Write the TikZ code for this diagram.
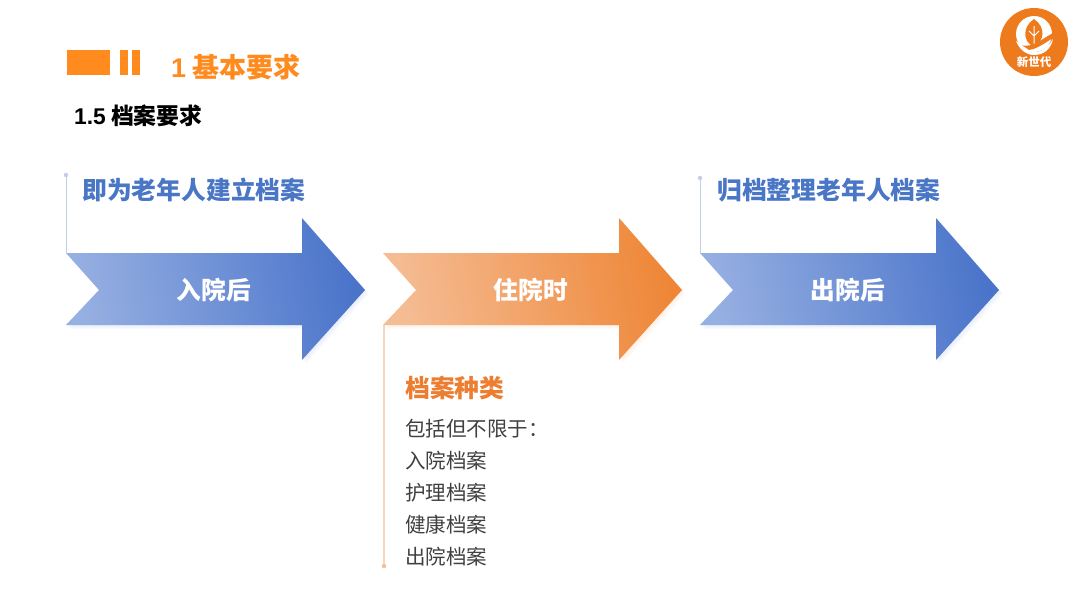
\documentclass[tikz,border=0pt]{standalone}
\usepackage{fontspec}
\setmainfont{Noto Sans CJK SC}
\newfontfamily\latinbold{Liberation Sans}[BoldFont={Liberation Sans Bold}]
\usetikzlibrary{positioning,calc}
\definecolor{orangeMain}{HTML}{FF8A1E}
\definecolor{orangeText}{HTML}{ED7D31}
\definecolor{orangeLogo}{HTML}{EE7A1E}
\definecolor{orangeLight}{HTML}{F5BD95}
\definecolor{orangeMid}{HTML}{F2A569}
\definecolor{orangeDark}{HTML}{EE8636}
\definecolor{blueText}{HTML}{4A76C6}
\definecolor{blueLight}{HTML}{97B0E2}
\definecolor{blueMid}{HTML}{6F90D6}
\definecolor{blueDark}{HTML}{4A74CA}
\definecolor{stemBlue}{HTML}{C3CEEA}
\definecolor{stemOrange}{HTML}{F9D5BC}
\definecolor{bodyText}{HTML}{404040}
\definecolor{shadowBlue}{HTML}{AFC0E8}
\definecolor{shadowOrange}{HTML}{F5C9A8}
\newcommand{\arrowpath}[2]{(#1,253+#2) -- ++(236,0) -- ++(0,-35) -- ++(63,72) -- ++(-63,70) -- ++(0,-35) -- ++(-236,0) -- ++(33,-35) -- cycle}
\begin{document}
\begin{tikzpicture}[x=1pt,y=-1pt,
        barbox/.style={fill=orangeMain, draw=none},
        armlabel/.style={font=\fontsize{24.7}{28}\selectfont\bfseries, text=white, inner sep=0pt},
        headline/.style={font=\fontsize{24.8}{28}\selectfont\bfseries, anchor=west, inner sep=0pt},
        stemdot/.style={circle, fill=#1, inner sep=0pt, minimum size=4.5pt},
        bluearm/.style={shade, shading=axis, left color=blueLight, middle color=blueMid, right color=blueDark, shading angle=100},
        orangearm/.style={shade, shading=axis, left color=orangeLight, middle color=orangeMid, right color=orangeDark, shading angle=100}
    ]
        \useasboundingbox (0,0) rectangle (1080,598);
        % header
        \fill [barbox] (67,50) rectangle (110,75);
        \fill [barbox] (120,50) rectangle (128,75);
        \fill [barbox] (132,50) rectangle (140,75);
        \node [anchor=west, inner sep=0pt, text=orangeMain] (title) at (171,67)
            {\fontsize{27}{30}\selectfont\bfseries{\latinbold 1} 基本要求};
        \node [anchor=west, inner sep=0pt] (subtitle) at (74,116)
            {\fontsize{22.8}{26}\selectfont\bfseries{\latinbold 1.5} 档案要求};

        % logo
        \fill [orangeLogo] (1034,42) circle (34);
        \fill [white] (1034,34) circle (18);
        \fill [orangeLogo] (1034,19) .. controls (1022,27) and (1023,42) .. (1033,46)
            .. controls (1045,42) and (1046,27) .. (1034,19) -- cycle;
        \draw [white, line width=1pt] (1034,26) -- (1034,44) (1034,36) -- (1029,31) (1034,36) -- (1039,31);
        \fill [orangeLogo] (1015,42) .. controls (1028,52) and (1040,40) .. (1053,33)
            -- (1053,38) .. controls (1040,46) and (1028,56) .. (1015,46) -- cycle;
        \fill [white] (1016,41) .. controls (1024,46) and (1030,53) .. (1037,52)
            .. controls (1044,51) and (1050,44) .. (1053,39)
            .. controls (1051,49) and (1044,55) .. (1034,55)
            .. controls (1026,55) and (1019,49) .. (1016,41) -- cycle;
        \node [inner sep=0pt, text=white] (logotext) at (1034,62) {\fontsize{11.5}{12}\selectfont\bfseries 新世代};

        % arrows
        \foreach \d in {1,2,3,4} {
            \fill [shadowBlue, opacity=0.07] \arrowpath{66+\d}{\d};
            \fill [shadowOrange, opacity=0.07] \arrowpath{383+\d}{\d};
            \fill [shadowBlue, opacity=0.07] \arrowpath{700+\d}{\d};
        }
        \path [bluearm] \arrowpath{66}{0};
        \path [orangearm] \arrowpath{383}{0};
        \path [bluearm] \arrowpath{700}{0};
        \node [armlabel] (arm1) at (214,290) {入院后};
        \node [armlabel] (arm2) at (531,290) {住院时};
        \node [armlabel] (arm3) at (848,290) {出院后};

        % stems
        \node [stemdot=stemBlue] (dot1) at (66,175) {};
        \node [stemdot=stemBlue] (dot3) at (700,178) {};
        \node [stemdot=orangeLight] (dot2) at (384,566) {};
        \coordinate (foot1) at (66,253);
        \coordinate (foot2) at (384,325);
        \coordinate (foot3) at (700,253);
        \draw [stemBlue, line width=1pt] (dot1) -- (foot1);
        \draw [stemBlue, line width=1pt] (dot3) -- (foot3);
        \draw [stemOrange, line width=1.2pt] (foot2) -- (dot2);

        % captions
        \node [headline, text=blueText] (head1) at (82,190) {即为老年人建立档案};
        \node [headline, text=blueText] (head3) at (717,190) {归档整理老年人档案};
        \node [headline, text=orangeText] (head2) at (405,388) {档案种类};
        \node [anchor=north west, inner sep=0pt, align=left, text=bodyText,
            font=\fontsize{20.5}{32}\selectfont] (kinds) at (405,418.5)
            {包括但不限于：\\入院档案\\护理档案\\健康档案\\出院档案};
    \end{tikzpicture}
\end{document}
